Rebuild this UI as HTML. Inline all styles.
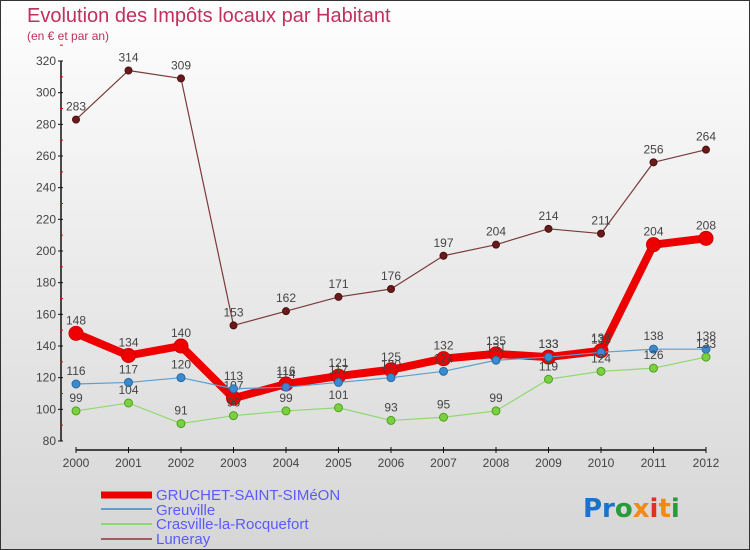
<!DOCTYPE html>
<html><head><meta charset="utf-8"><style>
body{margin:0}
#c{width:750px;height:550px;position:relative;box-sizing:border-box;border:1px solid #333;background:linear-gradient(#fefefe,#d6d6d6);font-family:"Liberation Sans","DejaVu Sans",sans-serif;overflow:hidden}
</style></head><body>
<div id="c">
<svg width="750" height="550" style="position:absolute;left:0;top:0" id="svg">
<text x="26" y="21" font-size="20" fill="#c0305a">Evolution des Impôts locaux par Habitant</text>
<text x="26" y="39" font-size="12" fill="#c0305a">(en € et par an)</text>
<g id="axes"></g><g id="series"></g>
<g>
<line x1="100" y1="494" x2="151" y2="494" stroke="#e00" stroke-width="7"/>
<text x="155" y="499" font-size="15" fill="#5a5aff">GRUCHET-SAINT-SIMéON</text>
<line x1="100" y1="508" x2="151" y2="508" stroke="#5a9fd0" stroke-width="2"/>
<text x="155" y="514" font-size="15" fill="#5a5aff">Greuville</text>
<line x1="100" y1="523" x2="151" y2="523" stroke="#8fd870" stroke-width="2"/>
<text x="155" y="528" font-size="15" fill="#5a5aff">Crasville-la-Rocquefort</text>
<line x1="100" y1="538" x2="151" y2="538" stroke="#9a6060" stroke-width="2"/>
<text x="155" y="543" font-size="15" fill="#5a5aff">Luneray</text>
</g>
<g font-size="26" font-weight="bold" font-family="'DejaVu Sans',sans-serif">
<text x="582" y="516"><tspan fill="#1a73c8">Pr</tspan><tspan fill="#2a9a3a">o</tspan><tspan fill="#f08a10">x</tspan><tspan fill="#e03020">i</tspan><tspan fill="#f08a10">t</tspan><tspan fill="#2a9a3a">i</tspan></text>
</g>
</svg>
</div>
<script>
const years=[2000,2001,2002,2003,2004,2005,2006,2007,2008,2009,2010,2011,2012];
const yTicks=[80,100,120,140,160,180,200,220,240,260,280,300,320];
const gruchet=[148,134,140,107,116,121,125,132,135,133,137,204,208];
const greuville=[116,117,120,113,114,117,120,124,131,133,136,138,138];
const crasville=[99,104,91,96,99,101,93,95,99,119,124,126,133];
const luneray=[283,314,309,153,162,171,176,197,204,214,211,256,264];
const NS="http://www.w3.org/2000/svg";
const X=i=>75+i*52.5;
const Y=v=>440-(v-80)*380/240;
function mk(tag,attrs,parent){const e=document.createElementNS(NS,tag);for(const k in attrs)e.setAttribute(k,attrs[k]);parent.appendChild(e);return e;}
const ax=document.getElementById('axes');
const yl=mk('line',{x1:60,y1:Y(320),x2:60,y2:Y(80),stroke:'#111','stroke-width':1.5},ax);


const xl=mk('line',{x1:X(0),y1:449,x2:X(12),y2:449,stroke:'#111','stroke-width':1.5},ax);


yTicks.forEach(v=>{
 mk('line',{x1:57,y1:Y(v),x2:62,y2:Y(v),stroke:'#111'},ax);
 mk('line',{x1:59,y1:Y(v+10),x2:62,y2:Y(v+10),stroke:'#e00'},ax);
 const t=mk('text',{x:55,y:Y(v)+4,'font-size':12,fill:'#444','text-anchor':'end'},ax);t.textContent=v;
 
 
});
years.forEach((yr,i)=>{
 mk('line',{x1:X(i),y1:446,x2:X(i),y2:452,stroke:'#111'},ax);
 const t=mk('text',{x:X(i),y:466,'font-size':12,fill:'#444','text-anchor':'middle'},ax);t.textContent=yr;
 
 
});
const sg=document.getElementById('series');
function draw(data,name,color,w,r,dot,stroke){
 const g=mk('g',{},sg);
 
 
 mk('polyline',{points:data.map((v,i)=>X(i)+','+Y(v)).join(' '),fill:'none',stroke:color,'stroke-width':w,'stroke-linejoin':'round'},g);
 data.forEach((v,i)=>{
  const c=mk('circle',{cx:X(i),cy:Y(v),r:r,fill:dot,stroke:stroke,'stroke-width':1},g);
  
  
  const t=mk('text',{x:X(i),y:Y(v)-9,'font-size':12,fill:'#444','text-anchor':'middle'},g);t.textContent=v;
  
  
 });
}
draw(luneray,'luneray','#7a3a3a',1.2,3.5,'#6a1a1a','#4a1010');
draw(gruchet,'gruchet','#ee0000',8,7,'#ee0000','#c00');
draw(greuville,'greuville','#5a9fd0',1.2,4,'#3a8ad0','#2a6aa0');
draw(crasville,'crasville','#8fd870',1.2,4,'#7ad040','#50a020');
</script>
</body></html>
